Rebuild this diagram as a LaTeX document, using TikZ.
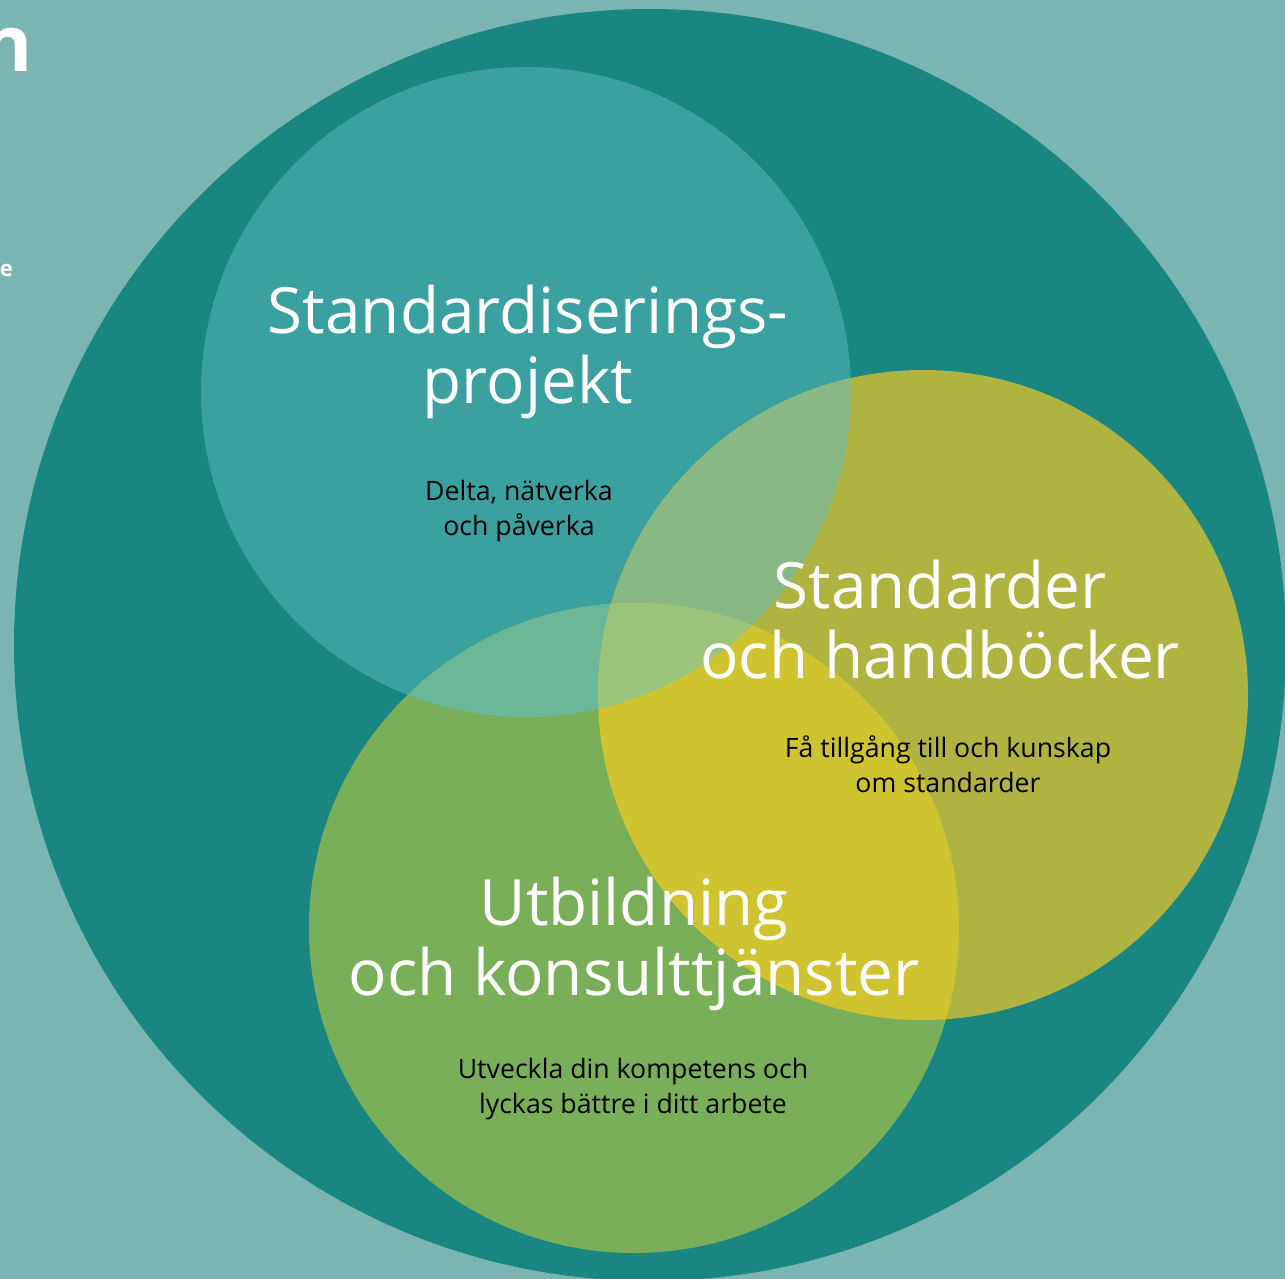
\documentclass[tikz,border=0pt]{standalone}
\usepackage{fontspec}
\setmainfont{Open Sans}
\definecolor{bgc}{HTML}{7BB5B2}
\definecolor{bigc}{HTML}{1A8682}
\definecolor{cA}{HTML}{3BA0A0}
\definecolor{cB}{HTML}{AFB441}
\definecolor{cC}{HTML}{7AAF5A}
\definecolor{cAB}{HTML}{88B984}
\definecolor{cAC}{HTML}{6BB898}
\definecolor{cBC}{HTML}{CFC32F}
\definecolor{cABC}{HTML}{9BC47B}
\tikzset{
  title/.style={text=white, inner sep=0pt, anchor=base, font=\fontsize{63.8}{70}\selectfont},
  sub/.style={text=black, inner sep=0pt, anchor=base, font=\fontsize{26.7}{35}\selectfont},
  edge/.style={text=white, inner sep=0pt, anchor=base east, font=\bfseries\fontsize{78}{80}\selectfont}
}
\begin{document}
\begin{tikzpicture}[x=1pt,y=-1pt]
\useasboundingbox (0,0) rectangle (1285,1279);
\fill[bgc] (0,0) rectangle (1285,1279);
\fill[bigc] (650,645) circle (636);
\def\circA{(526,392) circle (325)}
\def\circB{(923,695) circle (325)}
\def\circC{(634,928) circle (325)}
\fill[cA] \circA;
\fill[cB] \circB;
\fill[cC] \circC;
\begin{scope}\clip \circA; \fill[cAB] \circB; \end{scope}
\begin{scope}\clip \circA; \fill[cAC] \circC; \end{scope}
\begin{scope}\clip \circB; \fill[cBC] \circC; \end{scope}
\begin{scope}\clip \circA; \clip \circB; \fill[cABC] \circC; \end{scope}
% cut-off page text
\node[edge] (n) at (33,72) {n};
\node[text=white, inner sep=0pt, anchor=base east, font=\bfseries\fontsize{22}{24}\selectfont] (e) at (13,276) {e};
% labels
\node[title] (t1a) at (528,333) {Standardiserings-};
\node[title] (t1b) at (528,403) {projekt};
\node[sub] (s1a) at (519,500) {Delta, nätverka};
\node[sub] (s1b) at (519,535) {och påverka};
\node[title] (t2a) at (940,608) {Standarder};
\node[title] (t2b) at (940,678) {och handböcker};
\node[sub] (s2a) at (948,757) {Få tillgång till och kunskap};
\node[sub] (s2b) at (948,792) {om standarder};
\node[title] (t3a) at (634,925) {Utbildning};
\node[title] (t3b) at (634,995) {och konsulttjänster};
\node[sub] (s3a) at (633,1078) {Utveckla din kompetens och};
\node[sub] (s3b) at (633,1113) {lyckas bättre i ditt arbete};
\end{tikzpicture}
\end{document}
